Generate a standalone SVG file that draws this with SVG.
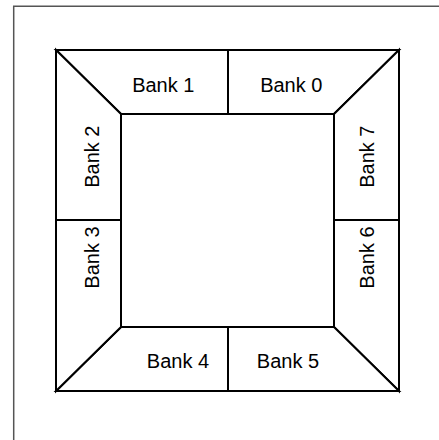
<svg xmlns="http://www.w3.org/2000/svg" width="439" height="440" viewBox="0 0 439 440">
<style>
.frame{fill:none;stroke:#555;stroke-width:1.5}
.bank polygon{fill:#fff;stroke:#000;stroke-width:2;stroke-linejoin:miter}
.bank text{font-family:"Liberation Sans",Arial,sans-serif;font-size:20px;fill:#000;text-anchor:middle}
</style>
<rect width="439" height="440" fill="#fff"/>
<path class="frame" d="M13.7,445 V6.3 H445"/>
<g id="bank1" class="bank"><polygon points="56,50 228,50 228,114 121,114 56,50"/><text x="163.3" y="91.7">Bank 1</text></g>
<g id="bank0" class="bank"><polygon points="228,50 399,50 334,114 228,114"/><text x="291.3" y="91.7">Bank 0</text></g>
<g id="bank7" class="bank"><polygon points="399,50 399,220 334,220 334,114"/><text transform="translate(374.3,156.7) rotate(-90)">Bank 7</text></g>
<g id="bank6" class="bank"><polygon points="399,220 399,391 334,327 334,220"/><text transform="translate(374.3,257.5) rotate(-90)">Bank 6</text></g>
<g id="bank5" class="bank"><polygon points="399,391 228,391 228,327 334,327"/><text x="288" y="368">Bank 5</text></g>
<g id="bank4" class="bank"><polygon points="228,391 56,391 121,327 228,327"/><text x="178" y="368">Bank 4</text></g>
<g id="bank3" class="bank"><polygon points="56,391 56,220 121,220 121,327"/><text transform="translate(99.3,257.5) rotate(-90)">Bank 3</text></g>
<g id="bank2" class="bank"><polygon points="56,220 56,50 121,114 121,220"/><text transform="translate(99.3,156.7) rotate(-90)">Bank 2</text></g>
<g id="connectors"></g>
</svg>
